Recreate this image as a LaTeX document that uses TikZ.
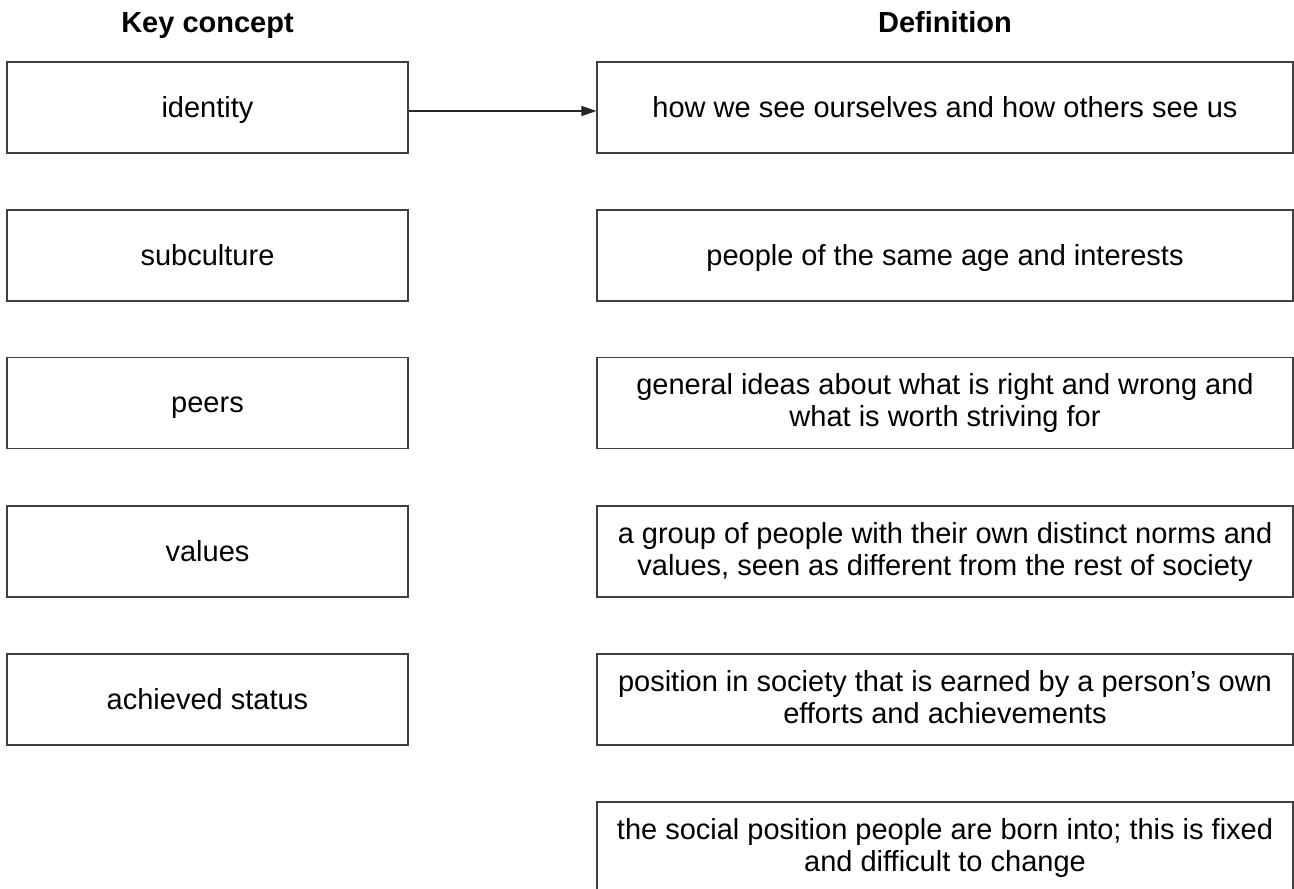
\documentclass[tikz,border=0pt]{standalone}
\usepackage{fontspec}
\setmainfont{Liberation Sans}
\usetikzlibrary{arrows.meta}
\begin{document}
\begin{tikzpicture}[x=0.5pt,y=-0.5pt,
  box/.style={draw=black!75, line width=0.55pt, rectangle, inner sep=0pt,
    minimum height=45.5pt, align=center,
    execute at begin node={\rule{0pt}{12.8pt}},
    execute at end node={\rule[-3pt]{0pt}{3pt}},
    font=\fontsize{14.5}{16}\selectfont},
  keybox/.style={box, minimum width=200.5pt},
  defbox/.style={box, minimum width=348pt},
  head/.style={font=\fontsize{14.5}{16}\selectfont\bfseries, anchor=base},
  link/.style={draw=black!85, line width=0.55pt, -{Triangle[length=7.5pt,width=5pt]}}]
\useasboundingbox (0,0) rectangle (1294,888);
\node[head] (h1) at (207.5,33) {Key concept};
\node[head] (h2) at (945,33) {Definition};
\node[keybox] (k1) at (207.5,107.5) {identity};
\node[keybox] (k2) at (207.5,255.5) {subculture};
\node[keybox] (k3) at (207.5,403) {peers};
\node[keybox] (k4) at (207.5,551.5) {values};
\node[keybox] (k5) at (207.5,699.5) {achieved status};
\node[defbox] (d1) at (945,107.5) {how we see ourselves and how others see us};
\node[defbox] (d2) at (945,255.5) {people of the same age and interests};
\node[defbox] (d3) at (945,403) {general ideas about what is right and wrong and\\what is worth striving for};
\node[defbox] (d4) at (945,551.5) {a group of people with their own distinct norms and\\values, seen as different from the rest of society};
\node[defbox] (d5) at (945,699.5) {position in society that is earned by a person’s own\\efforts and achievements};
\node[defbox] (d6) at (945,847.5) {the social position people are born into; this is fixed\\and difficult to change};
\draw[link] ([yshift=-1.75pt]k1.east) -- ([yshift=-1.75pt]d1.west);
\end{tikzpicture}
\end{document}
